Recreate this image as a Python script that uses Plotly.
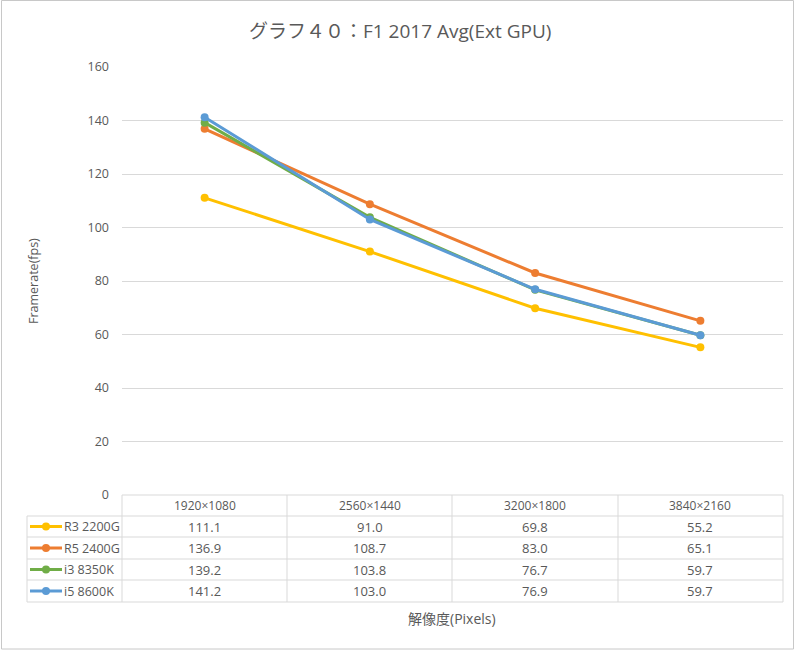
import plotly.graph_objects as go

categories = ["1920×1080", "2560×1440", "3200×1800", "3840×2160"]
series_names = ["R3 2200G", "R5 2400G", "i3 8350K", "i5 8600K"]
r3_2200g = [111.1, 91.0, 69.8, 55.2]
r5_2400g = [136.9, 108.7, 83.0, 65.1]
i3_8350k = [139.2, 103.8, 76.7, 59.7]
i5_8600k = [141.2, 103.0, 76.9, 59.7]
colors = ["#FFC000", "#ED7D31", "#70AD47", "#5B9BD5"]
y_ticks = [0, 20, 40, 60, 80, 100, 120, 140, 160]

all_values = [r3_2200g, r5_2400g, i3_8350k, i5_8600k]

W, H = 800, 651
L, R, T, B = 122, 783, 67, 495
pw, ph = R - L, B - T

def px(x):
    return (x - L) / pw

def py(y):
    return (B - y) / ph

TXT = "#595959"
GRID = "#d9d9d9"
FONT = "Open Sans, Noto Sans CJK JP, sans-serif"

fig = go.Figure()
xs = list(range(len(categories)))
for name, vals, col in zip(series_names, all_values, colors):
    fig.add_trace(go.Scatter(
        x=xs, y=vals, mode="lines+markers", name=name,
        line=dict(color=col, width=3),
        marker=dict(color=col, size=8),
        showlegend=False,
    ))

shapes = []
annotations = []

def hline(x0, x1, y):
    shapes.append(dict(type="line", xref="paper", yref="paper",
                       x0=px(x0), x1=px(x1), y0=py(y), y1=py(y),
                       line=dict(color=GRID, width=1)))

def vline(x, y0, y1):
    shapes.append(dict(type="line", xref="paper", yref="paper",
                       x0=px(x), x1=px(x), y0=py(y0), y1=py(y1),
                       line=dict(color=GRID, width=1)))

def text(x, y, s, size, xref="paper", xanchor="center", angle=0):
    annotations.append(dict(x=x, y=py(y), xref=xref, yref="paper", text=s,
                            showarrow=False, xanchor=xanchor, yanchor="middle",
                            textangle=angle,
                            font=dict(size=size, color=TXT, family=FONT)))

row_edges = [495, 516, 537, 559, 580, 602]
col_edges = [122, 287, 452, 618, 783]
hline(122, 783, 495)
for y in row_edges[1:]:
    hline(27, 783, y)
vline(27, 516, 602)
for x in col_edges:
    vline(x, 495, 602)

# header
for i, c in enumerate(categories):
    text(i, (row_edges[0] + row_edges[1]) / 2, c, 12, xref="x")
# rows
for r, (name, vals, col) in enumerate(zip(series_names, all_values, colors)):
    yc = (row_edges[r + 1] + row_edges[r + 2]) / 2
    for i, v in enumerate(vals):
        text(i, yc, f"{v:.1f}", 13, xref="x")
    shapes.append(dict(type="line", xref="paper", yref="paper",
                       x0=px(30), x1=px(62), y0=py(yc), y1=py(yc),
                       line=dict(color=col, width=3)))
    shapes.append(dict(type="circle", xref="paper", yref="paper",
                       x0=px(42), x1=px(50), y0=py(yc + 4), y1=py(yc - 4),
                       fillcolor=col, line=dict(color=col, width=0)))
    text(px(62), yc, name, 12.5, xanchor="left")

# axis titles and chart title
text(px(452), 618, "解像度(Pixels)", 14)
text(px(33), 281, "Framerate(fps)", 12.5, angle=-90)
text(px(400), 31, "グラフ４０：F1 2017 Avg(Ext GPU)", 19)

# outer border
shapes.append(dict(type="rect", xref="paper", yref="paper",
                   x0=px(1.5), x1=px(793.5), y0=py(0.5), y1=py(649),
                   line=dict(color="#c8c8c8", width=1)))

fig.update_layout(
    width=W, height=H,
    margin=dict(l=L, r=W - R, t=T, b=H - B),
    paper_bgcolor="white", plot_bgcolor="white",
    shapes=shapes, annotations=annotations,
    font=dict(family=FONT, color=TXT),
    xaxis=dict(range=[-0.5, len(categories) - 0.5], showticklabels=False,
               showgrid=False, zeroline=False, showline=False, fixedrange=True),
    yaxis=dict(range=[0, 160], tickvals=y_ticks, showgrid=True, gridcolor=GRID,
               gridwidth=1, zeroline=False, showline=False,
               tickfont=dict(size=12.5, color=TXT, family=FONT),
               ticklabelstandoff=12),
)

fig.write_html("out.html", config={"displayModeBar": False},
               post_script="document.body.style.margin='0';document.body.style.overflow='hidden';")
